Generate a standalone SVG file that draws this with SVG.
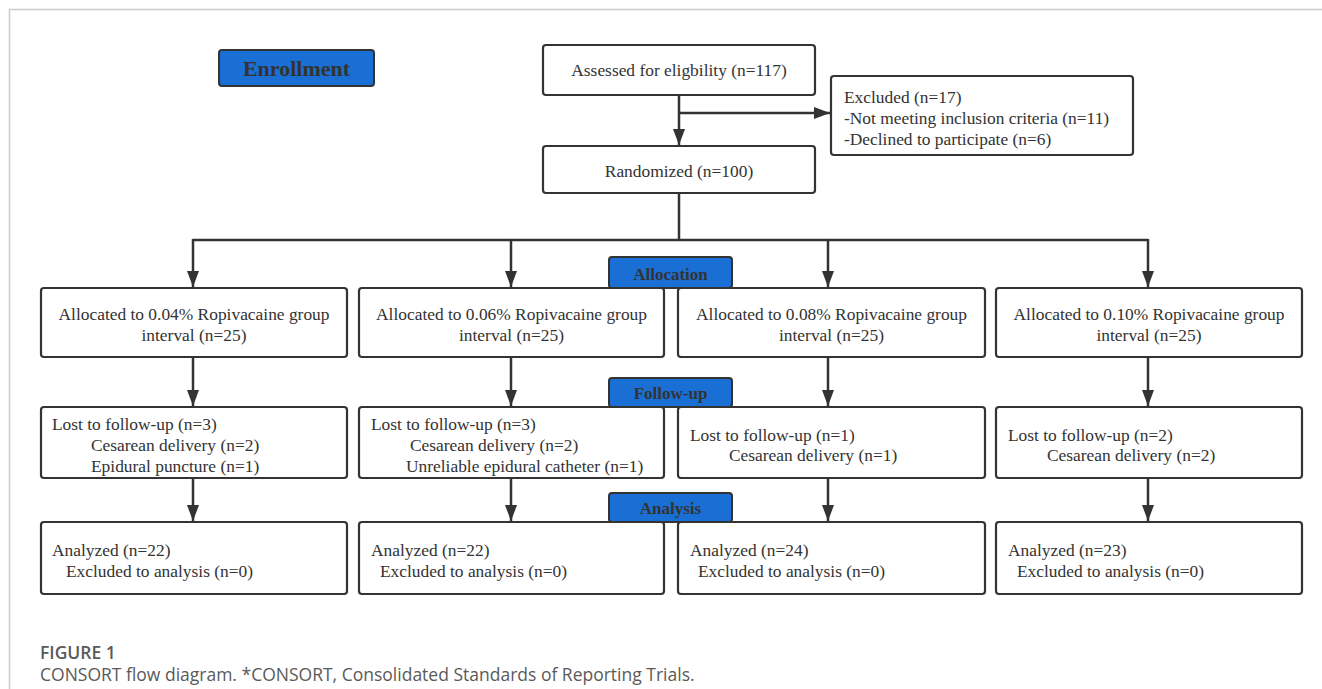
<svg xmlns="http://www.w3.org/2000/svg" width="1322" height="689" viewBox="0 0 1322 689">
<style>
.box{fill:#fff;stroke:#333;stroke-width:2.2}
.lbl{fill:#1a6fd4;stroke:#333;stroke-width:2}
.t{font-family:"Liberation Serif","Times New Roman",serif;font-size:17.4px;fill:#333}
.c{text-anchor:middle}
.b{font-family:"Liberation Serif","Times New Roman",serif;font-weight:bold;fill:#333;text-anchor:middle}
.ln{fill:none;stroke:#333;stroke-width:2.5}
.cap{font-family:"Open Sans","Noto Sans",sans-serif;fill:#5a5a5a}
</style>
<defs>
<marker id="ah" viewBox="0 0 16 12" refX="16" refY="6" markerWidth="6.6" markerHeight="5" markerUnits="strokeWidth" orient="auto">
<path d="M0,0 L16,6 L0,12 z" fill="#333"/>
</marker>
</defs>
<rect width="1322" height="689" fill="#fff"/>
<path d="M9.5,689 V9.5 H1322" fill="none" stroke="#ccc" stroke-width="1.5"/>

<g id="connectors">
<path class="ln" d="M679,95 V145" marker-end="url(#ah)"/>
<path class="ln" d="M679,113 H830" marker-end="url(#ah)"/>
<path class="ln" d="M679,193 V240 M193,240 H1148"/>
<path class="ln" d="M193,239 V287" marker-end="url(#ah)"/>
<path class="ln" d="M511,239 V287" marker-end="url(#ah)"/>
<path class="ln" d="M828,239 V287" marker-end="url(#ah)"/>
<path class="ln" d="M1148,239 V287" marker-end="url(#ah)"/>
<path class="ln" d="M193,357 V406" marker-end="url(#ah)"/>
<path class="ln" d="M511,357 V406" marker-end="url(#ah)"/>
<path class="ln" d="M828,357 V406" marker-end="url(#ah)"/>
<path class="ln" d="M1148,357 V406" marker-end="url(#ah)"/>
<path class="ln" d="M193,478 V521" marker-end="url(#ah)"/>
<path class="ln" d="M511,478 V521" marker-end="url(#ah)"/>
<path class="ln" d="M828,478 V521" marker-end="url(#ah)"/>
<path class="ln" d="M1148,478 V521" marker-end="url(#ah)"/>
</g>

<g id="enrollment">
<rect class="lbl" x="219" y="50" width="155" height="36" rx="3"/>
<text class="b" x="296.5" y="76" font-size="22">Enrollment</text>
</g>
<g id="assessed">
<rect class="box" x="543" y="45" width="272" height="50" rx="3"/>
<text class="t c" x="679" y="76">Assessed for eligbility (n=117)</text>
</g>
<g id="excluded">
<rect class="box" x="831" y="76" width="302" height="79" rx="3"/>
<text class="t" x="844" y="103">Excluded (n=17)</text>
<text class="t" x="844" y="124">-Not meeting inclusion criteria (n=11)</text>
<text class="t" x="844" y="145">-Declined to participate (n=6)</text>
</g>
<g id="randomized">
<rect class="box" x="543" y="146" width="272" height="47" rx="3"/>
<text class="t c" x="679" y="177">Randomized (n=100)</text>
</g>

<g id="allocation-label">
<rect class="lbl" x="609" y="257" width="123" height="31" rx="3"/>
<text class="b" x="670.5" y="280" font-size="17">Allocation</text>
</g>
<g id="alloc1">
<rect class="box" x="41" y="288" width="306" height="69" rx="3"/>
<text class="t c" x="194" y="320">Allocated to 0.04% Ropivacaine group</text>
<text class="t c" x="194" y="341">interval (n=25)</text>
</g>
<g id="alloc2">
<rect class="box" x="359" y="288" width="305" height="69" rx="3"/>
<text class="t c" x="511.5" y="320">Allocated to 0.06% Ropivacaine group</text>
<text class="t c" x="511.5" y="341">interval (n=25)</text>
</g>
<g id="alloc3">
<rect class="box" x="678" y="288" width="307" height="69" rx="3"/>
<text class="t c" x="831.5" y="320">Allocated to 0.08% Ropivacaine group</text>
<text class="t c" x="831.5" y="341">interval (n=25)</text>
</g>
<g id="alloc4">
<rect class="box" x="996" y="288" width="306" height="69" rx="3"/>
<text class="t c" x="1149" y="320">Allocated to 0.10% Ropivacaine group</text>
<text class="t c" x="1149" y="341">interval (n=25)</text>
</g>

<g id="followup-label">
<rect class="lbl" x="609" y="378" width="123" height="29" rx="3"/>
<text class="b" x="670.5" y="399" font-size="17">Follow-up</text>
</g>
<g id="follow1">
<rect class="box" x="41" y="407" width="306" height="71" rx="3"/>
<text class="t" x="52" y="430">Lost to follow-up (n=3)</text>
<text class="t" x="91" y="451">Cesarean delivery (n=2)</text>
<text class="t" x="91" y="472">Epidural puncture (n=1)</text>
</g>
<g id="follow2">
<rect class="box" x="359" y="407" width="305" height="71" rx="3"/>
<text class="t" x="371" y="430">Lost to follow-up (n=3)</text>
<text class="t" x="410" y="451">Cesarean delivery (n=2)</text>
<text class="t" x="406" y="472">Unreliable epidural catheter (n=1)</text>
</g>
<g id="follow3">
<rect class="box" x="678" y="407" width="307" height="71" rx="3"/>
<text class="t" x="690" y="441">Lost to follow-up (n=1)</text>
<text class="t" x="729" y="461">Cesarean delivery (n=1)</text>
</g>
<g id="follow4">
<rect class="box" x="996" y="407" width="306" height="71" rx="3"/>
<text class="t" x="1008" y="441">Lost to follow-up (n=2)</text>
<text class="t" x="1047" y="461">Cesarean delivery (n=2)</text>
</g>

<g id="analysis-label">
<rect class="lbl" x="609" y="493" width="123" height="29" rx="3"/>
<text class="b" x="670.5" y="514" font-size="17">Analysis</text>
</g>
<g id="anal1">
<rect class="box" x="41" y="522" width="306" height="72" rx="3"/>
<text class="t" x="52" y="556">Analyzed (n=22)</text>
<text class="t" x="66" y="577">Excluded to analysis (n=0)</text>
</g>
<g id="anal2">
<rect class="box" x="359" y="522" width="305" height="72" rx="3"/>
<text class="t" x="371" y="556">Analyzed (n=22)</text>
<text class="t" x="380" y="577">Excluded to analysis (n=0)</text>
</g>
<g id="anal3">
<rect class="box" x="678" y="522" width="307" height="72" rx="3"/>
<text class="t" x="690" y="556">Analyzed (n=24)</text>
<text class="t" x="698" y="577">Excluded to analysis (n=0)</text>
</g>
<g id="anal4">
<rect class="box" x="996" y="522" width="306" height="72" rx="3"/>
<text class="t" x="1008" y="556">Analyzed (n=23)</text>
<text class="t" x="1017" y="577">Excluded to analysis (n=0)</text>
</g>

<g id="caption">
<text class="cap" x="40" y="659" font-size="17.5" font-weight="600">FIGURE 1</text>
<text class="cap" x="40" y="681" font-size="17.5">CONSORT flow diagram. *CONSORT, Consolidated Standards of Reporting Trials.</text>
</g>
</svg>
